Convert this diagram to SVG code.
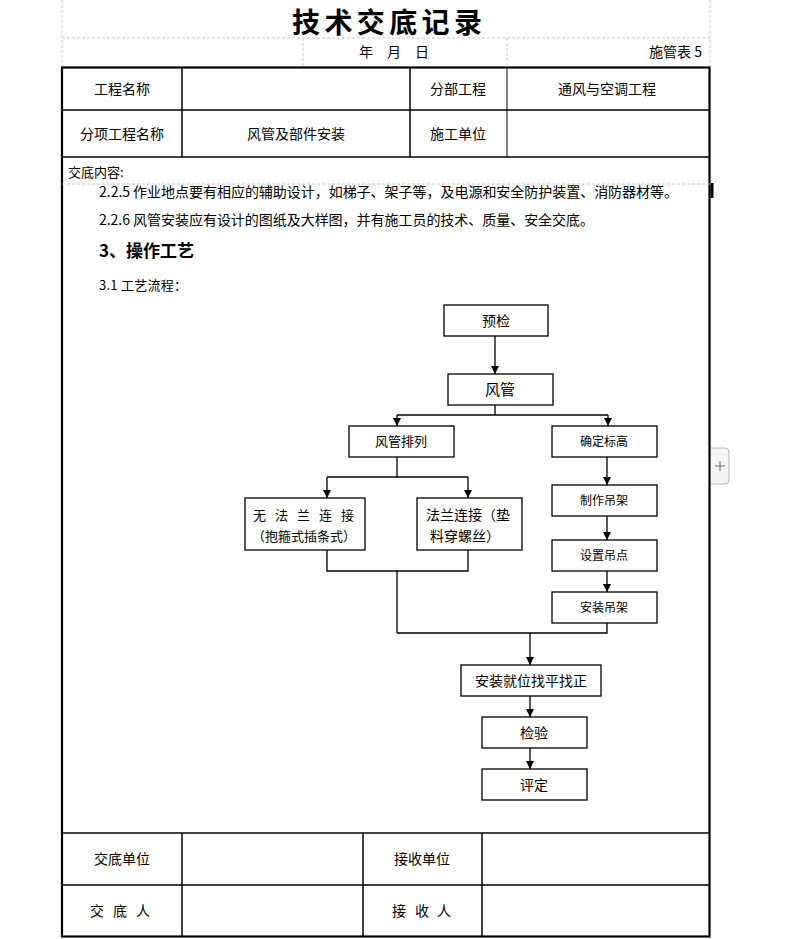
<svg xmlns="http://www.w3.org/2000/svg" width="793" height="939" viewBox="0 0 793 939">
<style>
text{font-family:"Noto Sans CJK SC","Liberation Sans",sans-serif;fill:#000}
.c{text-anchor:middle}
.t14{font-size:14px}
.t13{font-size:13px}
.dash{stroke:#c8c8c8;stroke-width:1;stroke-dasharray:3,2;fill:none}
.grid{stroke:#000;stroke-width:1.5;fill:none}
.thin{stroke:#000;stroke-width:1;fill:none}
.box{fill:#fff;stroke:#000;stroke-width:1.3}
.ln{stroke:#000;stroke-width:1.3;fill:none}
</style>
<defs>
<marker id="ah" viewBox="0 0 8 8" refX="8" refY="4" markerWidth="8" markerHeight="8" markerUnits="userSpaceOnUse" orient="auto">
<path d="M0,0 L8,4 L0,8 Z" fill="#000"/>
</marker>
</defs>
<rect width="793" height="939" fill="#fff"/>
<!-- header area -->
<g id="header">
<line class="dash" x1="62" y1="0" x2="62" y2="67"/>
<line class="dash" x1="710" y1="0" x2="710" y2="67"/>
<line class="dash" x1="62" y1="38" x2="710" y2="38"/>
<line class="dash" x1="303" y1="38" x2="303" y2="67"/>
<line class="dash" x1="507" y1="38" x2="507" y2="67"/>
<text class="c" x="387" y="32.5" style="font-size:28px;font-weight:bold" textLength="190">技术交底记录</text>
<text x="359" y="57" class="t14">年</text>
<text x="387" y="57" class="t14">月</text>
<text x="415" y="57" class="t14">日</text>
<text x="702" y="57" class="t14" text-anchor="end">施管表 5</text>
</g>
<!-- table -->
<g id="table">
<rect x="62" y="67.5" width="647.5" height="869" fill="none" stroke="#000" stroke-width="2.2"/>
<line class="grid" x1="62" y1="110" x2="710" y2="110"/>
<line class="grid" x1="62" y1="157" x2="710" y2="157"/>
<line class="grid" x1="182" y1="67" x2="182" y2="157"/>
<line class="grid" x1="410" y1="67" x2="410" y2="157"/>
<line class="thin" x1="507" y1="67" x2="507" y2="157"/>
<line class="dash" x1="62" y1="184" x2="710" y2="184"/>
<rect x="710.5" y="183" width="3" height="15" fill="#000"/>
<line class="grid" x1="62" y1="833" x2="710" y2="833"/>
<line class="grid" x1="62" y1="885" x2="710" y2="885"/>
<line class="grid" x1="182" y1="833" x2="182" y2="937"/>
<line class="grid" x1="363" y1="833" x2="363" y2="937"/>
<line class="grid" x1="482" y1="833" x2="482" y2="937"/>
<text class="c t14" x="122" y="94">工程名称</text>
<text class="c t14" x="458" y="94">分部工程</text>
<text class="c t14" x="607" y="94">通风与空调工程</text>
<text class="c t14" x="122" y="139">分项工程名称</text>
<text class="c t14" x="296" y="139">风管及部件安装</text>
<text class="c t14" x="458" y="139">施工单位</text>
<text x="68" y="177" class="t13">交底内容:</text>
<text x="99" y="197" class="t14" textLength="579">2.2.5 作业地点要有相应的辅助设计，如梯子、架子等，及电源和安全防护装置、消防器材等。</text>
<text x="99" y="225" class="t14" textLength="495">2.2.6 风管安装应有设计的图纸及大样图，并有施工员的技术、质量、安全交底。</text>
<text x="99" y="257" style="font-size:17px;font-weight:bold">3、操作工艺</text>
<text x="99" y="290" class="t13" textLength="88">3.1 工艺流程：</text>
<text class="c t14" x="122" y="864">交底单位</text>
<text class="c t14" x="422" y="864">接收单位</text>
<text class="c t14" x="97" y="916">交</text>
<text class="c t14" x="120" y="916">底</text>
<text class="c t14" x="143" y="916">人</text>
<text class="c t14" x="399" y="916">接</text>
<text class="c t14" x="422" y="916">收</text>
<text class="c t14" x="444" y="916">人</text>
</g>
<!-- side button -->
<g id="addbtn">
<path d="M711,448 H725 Q729,448 729,452 V480 Q729,484 725,484 H711" fill="#f5f5f5" stroke="#b8b8b8" stroke-width="1"/>
<line x1="715" y1="466" x2="725" y2="466" stroke="#666" stroke-width="1"/>
<line x1="720" y1="461" x2="720" y2="471" stroke="#666" stroke-width="1"/>
</g>
<!-- connectors -->
<g id="connectors">
<line class="ln" x1="495" y1="336" x2="495" y2="374" marker-end="url(#ah)"/>
<polyline class="ln" points="495,405 495,415"/>
<line class="ln" x1="397" y1="415" x2="608" y2="415"/>
<line class="ln" x1="397" y1="415" x2="397" y2="426" marker-end="url(#ah)"/>
<line class="ln" x1="608" y1="415" x2="608" y2="426" marker-end="url(#ah)"/>
<line class="ln" x1="397" y1="457" x2="397" y2="477"/>
<line class="ln" x1="327" y1="477" x2="468" y2="477"/>
<line class="ln" x1="327" y1="477" x2="327" y2="498" marker-end="url(#ah)"/>
<line class="ln" x1="468" y1="477" x2="468" y2="498" marker-end="url(#ah)"/>
<line class="ln" x1="607" y1="457" x2="607" y2="485" marker-end="url(#ah)"/>
<line class="ln" x1="607" y1="516" x2="607" y2="540" marker-end="url(#ah)"/>
<line class="ln" x1="607" y1="571" x2="607" y2="592" marker-end="url(#ah)"/>
<polyline class="ln" points="327,550 327,571 468,571 468,550"/>
<line class="ln" x1="397" y1="571" x2="397" y2="633"/>
<polyline class="ln" points="397,633 607,633 607,623"/>
<line class="ln" x1="530" y1="633" x2="530" y2="665" marker-end="url(#ah)"/>
<line class="ln" x1="530" y1="696" x2="530" y2="717" marker-end="url(#ah)"/>
<line class="ln" x1="530" y1="748" x2="530" y2="769" marker-end="url(#ah)"/>
</g>
<!-- nodes -->
<g id="n-yujian"><rect class="box" x="444" y="305" width="104" height="31"/><text class="c t14" x="496" y="326">预检</text></g>
<g id="n-fengguan"><rect class="box" x="448" y="374" width="105" height="31"/><text class="c" style="font-size:15px" x="500" y="395">风管</text></g>
<g id="n-pailie"><rect class="box" x="349" y="426" width="105" height="31"/><text class="c t13" x="401" y="446">风管排列</text></g>
<g id="n-biaogao"><rect class="box" x="552" y="426" width="105" height="31"/><text class="c" style="font-size:12px" x="604" y="446">确定标高</text></g>
<g id="n-wufalan"><rect class="box" x="245" y="498" width="120" height="52"/><text x="253" y="520" class="t13" textLength="101">无 法 兰 连 接</text><text class="c t13" x="304" y="541">（抱箍式插条式）</text></g>
<g id="n-falan"><rect class="box" x="417" y="498" width="105" height="52"/><text class="c t14" x="468" y="520">法兰连接（垫</text><text class="c t14" x="465" y="541">料穿螺丝）</text></g>
<g id="n-zhizuo"><rect class="box" x="552" y="485" width="105" height="31"/><text class="c" style="font-size:12px" x="604" y="505">制作吊架</text></g>
<g id="n-shezhi"><rect class="box" x="552" y="540" width="105" height="31"/><text class="c" style="font-size:12px" x="604" y="560">设置吊点</text></g>
<g id="n-anzhuang"><rect class="box" x="552" y="592" width="105" height="31"/><text class="c" style="font-size:12px" x="604" y="612">安装吊架</text></g>
<g id="n-jiuwei"><rect class="box" x="461" y="665" width="140" height="31"/><text class="c t14" x="531" y="686">安装就位找平找正</text></g>
<g id="n-jianyan"><rect class="box" x="482" y="717" width="105" height="31"/><text class="c t14" x="534" y="738">检验</text></g>
<g id="n-pingding"><rect class="box" x="482" y="769" width="105" height="31"/><text class="c t14" x="534" y="790">评定</text></g>
</svg>
